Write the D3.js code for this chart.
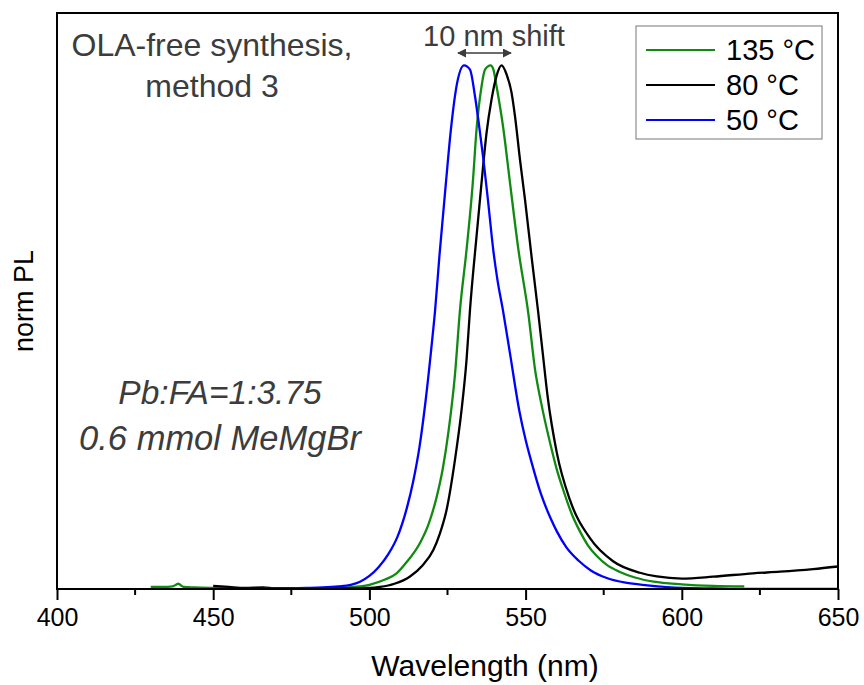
<!DOCTYPE html>
<html>
<head>
<meta charset="utf-8">
<script src="https://cdn.jsdelivr.net/npm/d3@7"></script>
<style>
  body { margin: 0; background: #fff; }
  text { font-family: "Liberation Sans", Arial, sans-serif; }
</style>
</head>
<body>
<div id="viz"></div>
<script>
// wavelength (nm) and normalized PL
const wl_50 = [450, 460, 470, 480, 485, 490, 494, 497, 500, 503, 506, 509, 512, 514, 516, 518, 520, 521, 522.4, 524.5, 526.1, 528.1, 530.3, 532.2, 533.8, 535, 536.5, 538, 539.7, 541, 542.7, 545, 548, 550, 552, 555, 558, 560, 563, 567, 571, 576, 582, 589, 600, 610, 620, 650];
const pl_50 = [0, 0, 0.001, 0.002, 0.003, 0.005, 0.008, 0.014, 0.025, 0.042, 0.066, 0.10, 0.155, 0.205, 0.27, 0.36, 0.47, 0.53, 0.635, 0.776, 0.878, 0.967, 1.0, 0.992, 0.941, 0.89, 0.82, 0.74, 0.645, 0.59, 0.534, 0.45, 0.34, 0.285, 0.24, 0.18, 0.135, 0.11, 0.08, 0.054, 0.035, 0.021, 0.012, 0.007, 0.002, 0.001, 0, 0];

const wl_80 = [450, 455, 460, 466, 470, 480, 490, 500, 503.4, 508, 513, 517, 520.5, 522.5, 524.7, 527.4, 529.5, 531.1, 532.2, 534.3, 535.9, 537.5, 539.1, 540.7, 542.3, 543.9, 545.5, 546.6, 548.2, 549.8, 552, 554, 555.5, 557, 560, 564.2, 570.6, 578, 586.6, 592, 600, 610, 622.8, 631.4, 642, 650];
const pl_80 = [0.006, 0.004, 0.002, 0.003, 0.001, 0.001, 0.001, 0.002, 0.004, 0.01, 0.024, 0.045, 0.075, 0.105, 0.151, 0.247, 0.342, 0.438, 0.533, 0.674, 0.776, 0.871, 0.935, 0.98, 1.0, 0.983, 0.948, 0.903, 0.82, 0.744, 0.63, 0.53, 0.45, 0.37, 0.26, 0.17, 0.097, 0.053, 0.031, 0.024, 0.020, 0.0235, 0.030, 0.033, 0.038, 0.043];

const wl_135 = [430, 434, 437, 438.8, 440.5, 444, 450, 460, 470, 480, 490, 495, 500, 505, 508.7, 512, 516.2, 519, 521.5, 523.5, 525.3, 527.4, 529, 531.1, 533.1, 534.3, 535.9, 537, 538.8, 539.7, 540.7, 542.9, 545, 547.7, 550.9, 553, 555, 558, 560, 562, 565, 567.4, 570, 572.8, 576, 580, 585, 591, 600, 610, 620];
const pl_135 = [0.004, 0.004, 0.005, 0.010, 0.004, 0.003, 0.002, 0.001, 0.001, 0.001, 0.002, 0.004, 0.008, 0.018, 0.03, 0.052, 0.088, 0.125, 0.175, 0.23, 0.30, 0.41, 0.533, 0.648, 0.776, 0.878, 0.96, 0.992, 1.0, 0.992, 0.96, 0.878, 0.776, 0.648, 0.525, 0.42, 0.355, 0.275, 0.228, 0.19, 0.14, 0.11, 0.083, 0.063, 0.046, 0.033, 0.022, 0.014, 0.009, 0.006, 0.005];

const series_names = ["135 °C", "80 °C", "50 °C"];
const series_colors = ["#118a11", "#000000", "#0000ff"];
const x_ticks = [400, 450, 500, 550, 600, 650];
const x_minor = [425, 475, 525, 575, 625];

const W = 864, H = 685;
const margin = { top: 13, right: 26, bottom: 96, left: 57 };
const innerW = W - margin.left - margin.right;
const innerH = H - margin.top - margin.bottom;

const svg = d3.select("#viz").append("svg").attr("width", W).attr("height", H);
const g = svg.append("g").attr("transform", `translate(${margin.left},${margin.top})`);

const x = d3.scaleLinear().domain([400, 650]).range([0, innerW]);
const y = d3.scaleLinear().domain([0, 1.1]).range([innerH, 0]);

// axis with major + minor ticks
const axisG = g.append("g").attr("transform", `translate(0,${innerH})`)
    .call(d3.axisBottom(x).tickValues(x_ticks).tickSize(11).tickPadding(8).tickFormat(d3.format("d")));
axisG.select(".domain").remove();
axisG.selectAll(".tick line").attr("stroke", "#000").attr("stroke-width", 2);
axisG.selectAll(".tick text").attr("font-size", 25).attr("fill", "#000")
    .style("font-family", '"Liberation Sans", Arial, sans-serif');
g.append("g").attr("transform", `translate(0,${innerH})`)
    .selectAll("line").data(x_minor).join("line")
    .attr("x1", d => x(d)).attr("x2", d => x(d))
    .attr("y1", 0).attr("y2", 6)
    .attr("stroke", "#000").attr("stroke-width", 2);

g.append("defs").append("clipPath").attr("id", "clip")
    .append("rect").attr("width", innerW).attr("height", innerH);

const line = d3.line().x(d => x(d[0])).y(d => y(d[1])).curve(d3.curveMonotoneX);
const curves = [
    { name: series_names[0], color: series_colors[0], pts: d3.zip(wl_135, pl_135) },
    { name: series_names[1], color: series_colors[1], pts: d3.zip(wl_80, pl_80) },
    { name: series_names[2], color: series_colors[2], pts: d3.zip(wl_50, pl_50) }
];
g.append("g").attr("clip-path", "url(#clip)")
    .selectAll("path").data(curves).join("path")
    .attr("d", d => line(d.pts))
    .attr("fill", "none")
    .attr("stroke", d => d.color)
    .attr("stroke-width", 2.3)
    .attr("stroke-linejoin", "round");

// frame
g.append("rect").attr("width", innerW).attr("height", innerH)
    .attr("fill", "none").attr("stroke", "#000").attr("stroke-width", 2);

// axis titles
svg.append("text").attr("x", 485).attr("y", 676).attr("text-anchor", "middle")
    .attr("font-size", 30).text("Wavelength (nm)");
svg.append("text").attr("transform", `translate(33,${margin.top + innerH / 2}) rotate(-90)`)
    .attr("text-anchor", "middle").attr("font-size", 27).text("norm PL");

// annotations
const grey = "#3c3c3c";
svg.append("text").attr("x", 212).attr("y", 56).attr("text-anchor", "middle")
    .attr("font-size", 32).attr("fill", grey).text("OLA-free synthesis,");
svg.append("text").attr("x", 212).attr("y", 97).attr("text-anchor", "middle")
    .attr("font-size", 32).attr("fill", grey).text("method 3");
svg.append("text").attr("x", 220).attr("y", 404).attr("text-anchor", "middle")
    .attr("font-size", 33.5).attr("font-style", "italic").attr("fill", grey).text("Pb:FA=1:3.75");
svg.append("text").attr("x", 220).attr("y", 450).attr("text-anchor", "middle")
    .attr("font-size", 34.5).attr("font-style", "italic").attr("fill", grey).text("0.6 mmol MeMgBr");
svg.append("text").attr("x", 494).attr("y", 46).attr("text-anchor", "middle")
    .attr("font-size", 29).attr("fill", grey).text("10 nm shift");

const defs = svg.append("defs");
defs.append("marker").attr("id", "ah").attr("viewBox", "0 0 10 10")
    .attr("refX", 9).attr("refY", 5).attr("markerWidth", 9).attr("markerHeight", 9)
    .attr("markerUnits", "userSpaceOnUse").attr("orient", "auto-start-reverse")
    .append("path").attr("d", "M0,0 L10,5 L0,10 Z").attr("fill", grey);
svg.append("line").attr("x1", 458).attr("x2", 511).attr("y1", 53).attr("y2", 53)
    .attr("stroke", grey).attr("stroke-width", 1.5)
    .attr("marker-start", "url(#ah)").attr("marker-end", "url(#ah)");

// legend
const leg = svg.append("g").attr("transform", "translate(636,26)");
leg.append("rect").attr("width", 186).attr("height", 113)
    .attr("fill", "#fff").attr("stroke", "#777").attr("stroke-width", 1);
const items = leg.selectAll("g").data(curves).join("g")
    .attr("transform", (d, i) => `translate(0,${24 + i * 35})`);
items.append("line").attr("x1", 10).attr("x2", 79).attr("y1", 0).attr("y2", 0)
    .attr("stroke", d => d.color).attr("stroke-width", 2);
items.append("text").attr("x", 90).attr("y", 10).attr("font-size", 29).text(d => d.name);
</script>
</body>
</html>
